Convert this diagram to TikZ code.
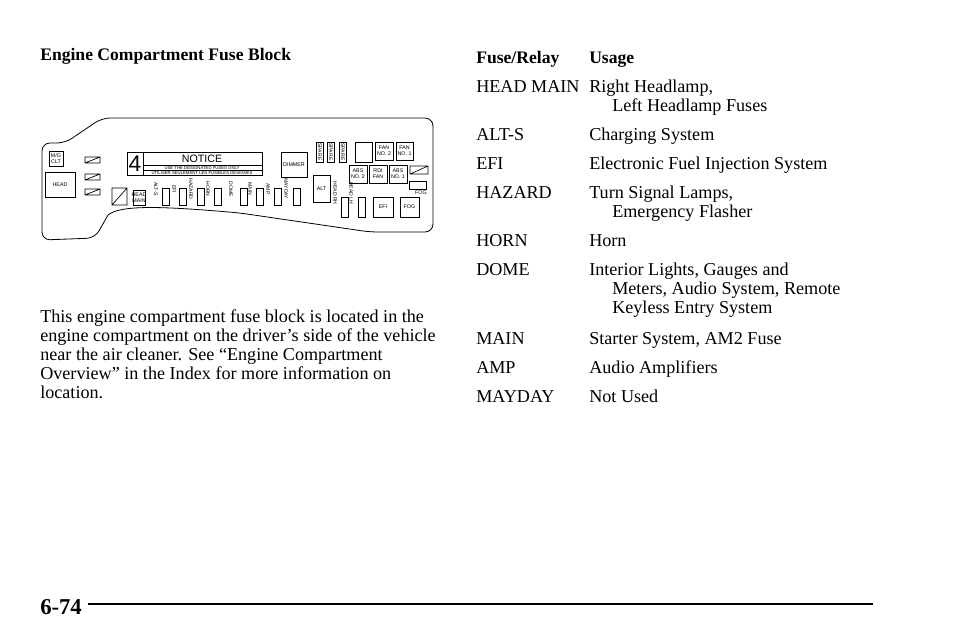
\documentclass[tikz,border=0pt]{standalone}
\usepackage{fontspec}
\setmainfont{Liberation Serif}
\newfontfamily\lsans{Liberation Sans}
\begin{document}
\begin{tikzpicture}[x=0.75pt,y=-0.75pt,
  txt/.style={anchor=base west,inner sep=0pt,font=\fontsize{13.6}{15}\selectfont},
  fb/.style={draw,line width=0.5pt},
  lab/.style={inner sep=0pt,font=\lsans\fontsize{4}{4.4}\selectfont,align=center},
  rlab/.style={lab,rotate=-90,font=\lsans\fontsize{3.8}{4}\selectfont}]
\useasboundingbox (0,0) rectangle (960,640);
% outline
\draw[line width=0.6pt,rounded corners=6] (102,118) -- (433,118) -- (433,232) -- (370,232) -- (240,213) [sharp corners] .. controls (160,206) and (120,205) .. (108,215) [rounded corners=6] -- (95,238) -- (42,240) -- (42,143) -- (65,143) -- cycle;
% left
\draw[fb] (49,151) rectangle (63,166); \node[lab] (mg) at (56,158.5) {M/G\\CLT};
\draw[fb] (45,172) rectangle (75,197); \node[lab] (hd) at (60,184.5) {HEAD};
\foreach \y in {157,174,189}{\draw[fb] (85,\y) rectangle (100,\y+6) (85,\y+6) -- (100,\y);}
\draw[fb] (112,188) rectangle (127,205) (112,205) -- (127,188);
\draw[fb] (133,190) rectangle (145,205); \node[lab] (hm) at (139,197.5) {HEAD\\MAIN};
\foreach \t/\tx/\bx in {ALT-S/158/162,EFI/176/179,HAZARD/193/197,HORN/210/214,DOME/233/240,MAIN/252/256,AMP/270/274,MAYDAY/288/293}{
  \node[rlab,anchor=north] (\t) at (\tx,189) {\t};
  \draw[fb] (\bx,188) rectangle (\bx+7.5,205);}
% notice
\draw[fb] (127,152) rectangle (262,175);
\draw[fb] (143,152) -- (143,175) (143,165) -- (262,165) (143,170) -- (262,170);
\node[inner sep=0pt,font=\lsans\fontsize{17}{17}\selectfont] (four) at (135,164) {4};
\node[inner sep=0pt,font=\lsans\fontsize{8}{8}\selectfont] (notice) at (202,158.5) {NOTICE};
\node[inner sep=0pt,font=\lsans\fontsize{3.2}{3.2}\selectfont] (use) at (202,167.7) {USE THE DESIGNATED FUSES ONLY};
\node[inner sep=0pt,font=\lsans\fontsize{3.2}{3.2}\selectfont] (util) at (202,172.7) {UTILISER SEULEMENT LES FUSIBLES DESIGNES};
% right
\draw[fb] (281,152) rectangle (307,177); \node[lab] (dim) at (294,164.5) {DIMMER};
\draw[fb] (313,175) rectangle (330,202); \node[lab] (alt) at (321.5,188.5) {ALT};
\foreach \x/\n in {316/sp1,327/sp2,339/sp3}{\draw[fb] (\x,142) rectangle (\x+7.5,162); \node[rlab] (\n) at (\x+3.75,152) {SPARE};}
\draw[fb] (355,142) rectangle (372,162);
\draw[fb] (375,142) rectangle (393,160); \node[lab] (f2) at (384,151) {FAN\\NO. 2};
\draw[fb] (396,142) rectangle (413,160); \node[lab] (f1) at (404.5,151) {FAN\\NO. 1};
\draw[fb] (349,165) rectangle (367,183); \node[lab] (a2) at (358,174) {ABS\\NO. 2};
\draw[fb] (369,165) rectangle (387,183); \node[lab] (rdi) at (378,174) {RDI\\FAN};
\draw[fb] (389,165) rectangle (407,183); \node[lab] (a1) at (398,174) {ABS\\NO. 1};
\draw[fb] (410,166) rectangle (428,174) (410,174) -- (428,166);
\draw[fb] (409,181) rectangle (426,189); \node[lab] (fogl) at (421,193) {FOG};
\node[rlab,anchor=north] (hrh) at (337,193) {HEAD RH};
\draw[fb] (341,197) rectangle (348,217);
\node[rlab,anchor=north] (hlh) at (353,193) {HEAD LH};
\draw[fb] (358,197) rectangle (365,217);
\draw[fb] (373,197) rectangle (393,217); \node[lab] (efi2) at (383,207) {EFI};
\draw[fb] (400,197) rectangle (419,217); \node[lab] (fog) at (409.5,207) {FOG};
% texts
\node[txt,font=\bfseries\fontsize{13.2}{15}\selectfont] (title) at (40,60) {Engine Compartment Fuse Block};
\node[txt] (p1) at (40,322) {This engine compartment fuse block is located in the};
\node[txt] (p2) at (40,341) {engine compartment on the driver’s side of the vehicle};
\node[txt] (p3) at (40,360) {near the air cleaner. See “Engine Compartment};
\node[txt] (p4) at (40,379) {Overview” in the Index for more information on};
\node[txt] (p5) at (40,398) {location.};
\node[txt,font=\bfseries\fontsize{13.2}{15}\selectfont] (h1) at (476,63) {Fuse/Relay};
\node[txt,font=\bfseries\fontsize{13.2}{15}\selectfont] (h2) at (589,63) {Usage};
\node[txt] (k1) at (476,92) {HEAD MAIN}; \node[txt] (u1) at (589,92) {Right Headlamp,};
\node[txt] (u1b) at (612,111) {Left Headlamp Fuses};
\node[txt] (k2) at (476,140) {ALT-S}; \node[txt] (u2) at (589,140) {Charging System};
\node[txt] (k3) at (476,169) {EFI}; \node[txt] (u3) at (589,169) {Electronic Fuel Injection System};
\node[txt] (k4) at (476,198) {HAZARD}; \node[txt] (u4) at (589,198) {Turn Signal Lamps,};
\node[txt] (u4b) at (612,217) {Emergency Flasher};
\node[txt] (k5) at (476,246) {HORN}; \node[txt] (u5) at (589,246) {Horn};
\node[txt] (k6) at (476,275) {DOME}; \node[txt] (u6) at (589,275) {Interior Lights, Gauges and};
\node[txt] (u6b) at (612,294) {Meters, Audio System, Remote};
\node[txt] (u6c) at (612,313) {Keyless Entry System};
\node[txt] (k7) at (476,344) {MAIN}; \node[txt] (u7) at (589,344) {Starter System, AM2 Fuse};
\node[txt] (k8) at (476,373) {AMP}; \node[txt] (u8) at (589,373) {Audio Amplifiers};
\node[txt] (k9) at (476,402) {MAYDAY}; \node[txt] (u9) at (589,402) {Not Used};
\node[txt,font=\bfseries\fontsize{17}{20}\selectfont] (pg) at (40,614) {6-74};
\draw[line width=2.2pt] (88,604) -- (873,604);
\end{tikzpicture}
\end{document}
